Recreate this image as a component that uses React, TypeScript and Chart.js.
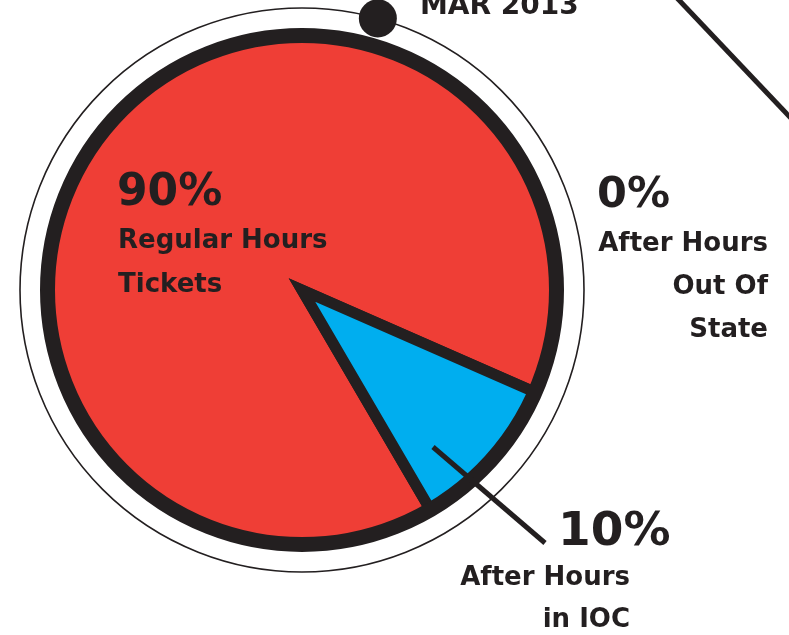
import React, { useEffect, useRef } from "react";
import { Chart, registerables } from "chart.js";

Chart.register(...registerables);

const categories = ["Regular Hours Tickets", "After Hours in IOC", "After Hours Out Of State"];
const values = [90, 10, 0];
const sliceColors = ["#EF3E36", "#00AEEF", "#FFFFFF"];
const dateLabel = "MAR 2013";

const INK = "#231F20";
const FONT = "'DejaVu Sans', sans-serif";

const decorPlugin = {
  id: "decor",
  afterDatasetsDraw(chart: any) {
    const ctx = chart.ctx;
    const arc = chart.getDatasetMeta(0).data[0] as any;
    const cx = arc.x;
    const cy = arc.y;
    const r = arc.outerRadius;
    ctx.save();
    // thick outer ring
    ctx.strokeStyle = INK;
    ctx.lineWidth = 15;
    ctx.beginPath();
    ctx.arc(cx, cy, r, 0, Math.PI * 2);
    ctx.stroke();
    // thin outer circle
    const rt = r + 27.5;
    ctx.lineWidth = 1.6;
    ctx.beginPath();
    ctx.arc(cx, cy, rt, 0, Math.PI * 2);
    ctx.stroke();
    // dot on thin circle
    const a = (-90 + 15.6) * Math.PI / 180;
    ctx.fillStyle = INK;
    ctx.beginPath();
    ctx.arc(cx + rt * Math.cos(a), cy + rt * Math.sin(a), 19, 0, Math.PI * 2);
    ctx.fill();
    // diagonal line top right
    ctx.lineWidth = 5;
    ctx.beginPath();
    ctx.moveTo(677, -2);
    ctx.lineTo(900, 233);
    ctx.stroke();
    // pointer line for IOC
    ctx.lineWidth = 5;
    ctx.beginPath();
    ctx.moveTo(433, 447);
    ctx.lineTo(545, 543);
    ctx.stroke();

    // texts
    ctx.fillStyle = INK;
    ctx.textBaseline = "alphabetic";
    // date
    ctx.textAlign = "left";
    ctx.font = `bold 28px ${FONT}`;
    ctx.fillText(dateLabel, 420, 14);

    // Regular hours
    ctx.font = `bold 44px ${FONT}`;
    ctx.fillText(`${values[0]}%`, 117, 205);
    ctx.font = `bold 26px ${FONT}`;
    ctx.fillText("Regular Hours", 118, 248);
    ctx.fillText("Tickets", 118, 292);

    // Out of state
    ctx.font = `bold 43px ${FONT}`;
    ctx.fillText(`${values[2]}%`, 597, 207);
    ctx.textAlign = "right";
    ctx.font = `bold 26px ${FONT}`;
    ctx.fillText("After Hours", 768, 251);
    ctx.fillText("Out Of", 768, 294);
    ctx.fillText("State", 768, 337);

    // IOC
    ctx.textAlign = "left";
    ctx.font = `bold 47px ${FONT}`;
    ctx.fillText(`${values[1]}%`, 558, 545);
    ctx.textAlign = "right";
    ctx.font = `bold 26px ${FONT}`;
    ctx.fillText("After Hours", 630, 585);
    ctx.fillText("in IOC", 630, 627);
    ctx.restore();
  },
};

export default function App() {
  const ref = useRef<HTMLCanvasElement>(null);
  useEffect(() => {
    if (!ref.current) return;
    const chart = new Chart(ref.current, {
      type: "pie",
      data: {
        labels: categories,
        datasets: [
          {
            data: values,
            backgroundColor: sliceColors,
            borderColor: INK,
            borderWidth: [11, 11, 0],
            borderJoinStyle: "miter",
            borderAlign: "center",
          } as any,
        ],
      },
      options: {
        responsive: false,
        animation: false,
        radius: 254.5,
        rotation: 149.7,
        layout: { padding: { left: 0, right: 185, top: 0, bottom: 55 } },
        plugins: { legend: { display: false }, tooltip: { enabled: false } },
      } as any,
      plugins: [decorPlugin],
    });
    return () => chart.destroy();
  }, []);
  return (
    <div style={{ position: "fixed", left: 0, top: 0, width: 789, height: 635, background: "#fff" }}>
      <canvas ref={ref} width={789} height={635} />
    </div>
  );
}
